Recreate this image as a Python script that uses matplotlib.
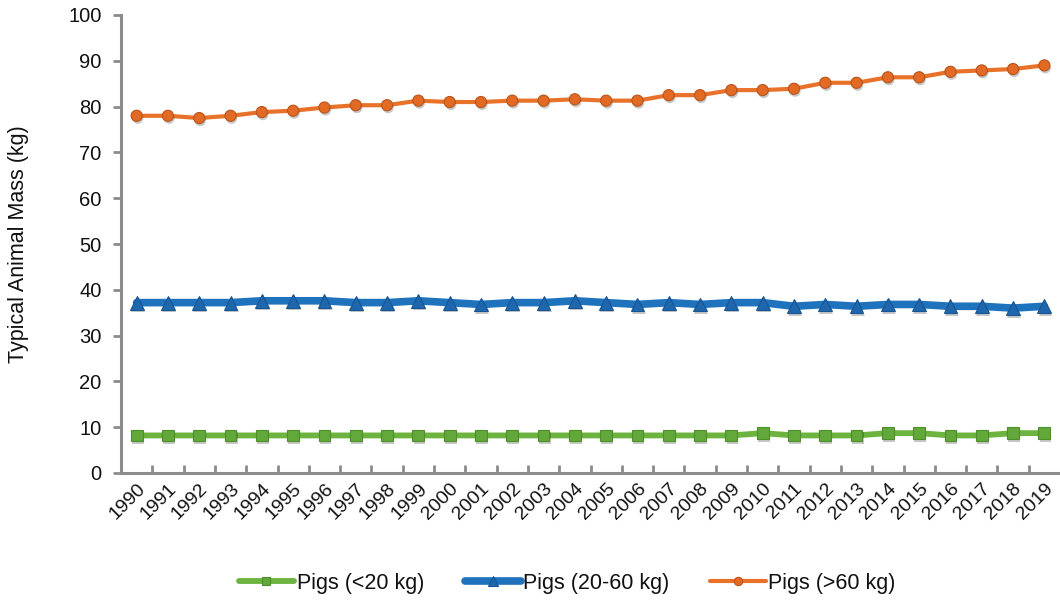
import matplotlib
matplotlib.use("Agg")
import matplotlib.pyplot as plt
import matplotlib.patheffects as pe
from matplotlib.lines import Line2D
import numpy as np

plt.rcParams['font.family'] = ['Liberation Sans', 'DejaVu Sans']

years = [str(y) for y in range(1990, 2020)]
pigs_small = [8.2, 8.2, 8.2, 8.2, 8.2, 8.2, 8.2, 8.2, 8.2, 8.2,
              8.2, 8.2, 8.2, 8.2, 8.2, 8.2, 8.2, 8.2, 8.2, 8.2,
              8.7, 8.2, 8.2, 8.2, 8.7, 8.7, 8.2, 8.2, 8.7, 8.7]
pigs_mid = [37.2, 37.2, 37.2, 37.2, 37.6, 37.6, 37.6, 37.2, 37.2, 37.6,
            37.2, 36.8, 37.2, 37.2, 37.6, 37.2, 36.8, 37.2, 36.8, 37.2,
            37.2, 36.4, 36.8, 36.4, 36.8, 36.8, 36.4, 36.4, 36.0, 36.4]
pigs_large = [78.0, 78.0, 77.5, 78.0, 78.8, 79.1, 79.8, 80.3, 80.3, 81.3,
              81.0, 81.0, 81.3, 81.3, 81.6, 81.3, 81.3, 82.5, 82.5, 83.6,
              83.6, 83.9, 85.2, 85.2, 86.4, 86.4, 87.6, 87.9, 88.2, 89.0]
series_labels = ['Pigs (<20 kg)', 'Pigs (20-60 kg)', 'Pigs (>60 kg)']

fig = plt.figure(figsize=(10.6, 6.01), dpi=100)
ax = fig.add_axes([121 / 1060, 1 - 473 / 601, 1 - 121 / 1060, (473 - 15) / 601])

x = np.arange(len(years))
shadow = [pe.SimplePatchShadow(offset=(0.8, -1.8), shadow_rgbFace='black', alpha=0.22), pe.Normal()]

styles = [
    dict(values=pigs_small, color='#6DB33F', lw=4.2, marker='s', ms=8.5,
         mfc='#62A83A', mec='#4E8F2C'),
    dict(values=pigs_mid, color='#1F72BC', lw=5.5, marker='^', ms=10,
         mfc='#1E67AD', mec='#175593'),
    dict(values=pigs_large, color='#E8722A', lw=3, marker='o', ms=8,
         mfc='#E26A24', mec='#B9541A'),
]

handles = []
for st, lab in zip(styles, series_labels):
    ax.plot(x, st['values'], color=st['color'], lw=st['lw'],
            solid_capstyle='round', zorder=2)
    pts, = ax.plot(x, st['values'], ls='none', marker=st['marker'], ms=st['ms'],
                   mfc=st['mfc'], mec=st['mec'], mew=0.8, zorder=3)
    pts.set_path_effects(shadow)
    handles.append(Line2D([], [], color=st['color'], lw=st['lw'],
                          marker=st['marker'], ms=st['ms'] * 0.75,
                          mfc=st['mfc'], mec=st['mec'], mew=0.8,
                          solid_capstyle='round'))

ax.set_xlim(-0.5, len(years) - 0.5)
ax.set_ylim(0, 100)
ax.set_yticks(range(0, 101, 10))
ax.set_xticks(x)
ax.set_xticklabels(years, rotation=45, ha='right', rotation_mode='anchor', fontsize=14)
ax.set_xticks(np.arange(0.5, len(years) - 1, 1.0), minor=True)

axis_color = '#8C8C8C'
for side in ['top', 'right']:
    ax.spines[side].set_visible(False)
for side in ['left', 'bottom']:
    ax.spines[side].set_color(axis_color)
    ax.spines[side].set_linewidth(2.2)

ax.tick_params(axis='y', direction='out', length=6, width=2, color=axis_color,
               labelsize=14.5, pad=8, labelcolor='#111111')
ax.tick_params(axis='x', which='major', length=0, pad=5, labelcolor='#111111')
ax.tick_params(axis='x', which='minor', direction='in', length=6, width=2, color=axis_color)

ax.set_ylabel('Typical Animal Mass (kg)', fontsize=15.5, labelpad=28, color='#111111')

leg = fig.legend(handles, series_labels, loc='center', bbox_to_anchor=(0.535, 1 - 583 / 601),
                 ncol=3, frameon=False, fontsize=15.5, handlelength=2.6,
                 columnspacing=1.9, handletextpad=0.1)
for t in leg.get_texts():
    t.set_color('#111111')

fig.savefig('out.png', dpi=100)
